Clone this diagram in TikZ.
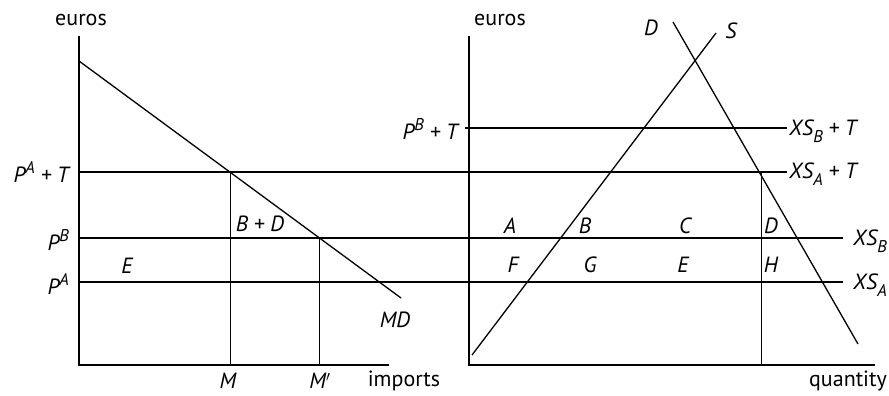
\documentclass[tikz,border=0pt]{standalone}
\usepackage{fontspec}
\setmainfont{PT Sans}
\newcommand{\mysup}[1]{\raisebox{0.42em}{\fontsize{17}{20}\selectfont #1}}
\newcommand{\mysub}[1]{\raisebox{-0.3em}{\fontsize{17}{20}\selectfont #1}}
\begin{document}
\begin{tikzpicture}[x=1pt,y=-1pt,
  ax/.style={line width=1.5pt},
  ln/.style={line width=1.3pt},
  thin/.style={line width=0.7pt},
  lab/.style={font=\fontsize{22}{26}\selectfont, inner sep=0pt},
  it/.style={lab, font=\fontsize{22}{26}\selectfont\itshape}]
\useasboundingbox (0,0) rectangle (889,396);
% left panel
\coordinate (L0) at (79,365);
\coordinate (Ltop) at (79,36);
\coordinate (Lend) at (389,365);
\draw[ax] (Ltop) -- (L0) -- (Lend);
\coordinate (md1) at (79,61);
\coordinate (md2) at (401,298);
\draw[ln] (md1) -- (md2);
% horizontal lines
\coordinate (pat1) at (79,172); \coordinate (pat2) at (787,172);
\coordinate (pb1) at (79,238); \coordinate (pb2) at (843,238);
\coordinate (pa1) at (79,282); \coordinate (pa2) at (843,282);
\coordinate (pbt1) at (465,128); \coordinate (pbt2) at (787,128);
\draw[ln] (pat1) -- (pat2);
\draw[ln] (pb1) -- (pb2);
\draw[ln] (pa1) -- (pa2);
\draw[ln] (pbt1) -- (pbt2);
% verticals
\coordinate (m1) at (230,172); \coordinate (m2) at (230,365);
\coordinate (mp1) at (319,238); \coordinate (mp2) at (319,365);
\draw[thin] (m1) -- (m2);
\draw[thin] (mp1) -- (mp2);
% right panel
\coordinate (R0) at (469,365);
\coordinate (Rtop) at (469,36);
\coordinate (Rend) at (875,365);
\draw[ax] (Rtop) -- (R0) -- (Rend);
\coordinate (s1) at (472,355); \coordinate (s2) at (716,33);
\coordinate (d1) at (673,22); \coordinate (d2) at (858,344);
\draw[ln] (s1) -- (s2);
\draw[ln] (d1) -- (d2);
\coordinate (v1) at (761,172); \coordinate (v2) at (761,365);
\draw[thin] (v1) -- (v2);
% labels left
\node[lab] (euL) at (81,20) {euros};
\node[it, anchor=east] (lPAT) at (69,172) {P\mysup{A} + T};
\node[it, anchor=east] (lPB) at (69,240) {P\mysup{B}};
\node[it, anchor=east] (lPA) at (69,284) {P\mysup{A}};
\node[it] (lE) at (127,266) {E};
\node[it] (lBD) at (260,224) {B + D};
\node[it] (lMD) at (395,320) {MD};
\node[it] (lM) at (228,381) {M};
\node[it] (lMp) at (320,381) {M$'$};
\node[lab] (limp) at (404,381) {imports};
\node[lab] (euR) at (500,20) {euros};
% labels right
\node[it] (lD) at (651,28) {D};
\node[it] (lS) at (731,31) {S};
\node[it, anchor=east] (rPBT) at (458,129) {P\mysup{B} + T};
\node[it, anchor=west] (xsbt) at (789,131) {XS\mysub{B} + T};
\node[it, anchor=west] (xsat) at (789,174) {XS\mysub{A} + T};
\node[it, anchor=west] (xsb) at (853,241) {XS\mysub{B}};
\node[it, anchor=west] (xsa) at (853,285) {XS\mysub{A}};
\node[lab] (qty) at (848,381) {quantity};
\node[it] (rA) at (510,226) {A};
\node[it] (rB) at (585,226) {B};
\node[it] (rC) at (685,226) {C};
\node[it] (rD) at (771,226) {D};
\node[it] (rF) at (513,265) {F};
\node[it] (rG) at (590,265) {G};
\node[it] (rE) at (683,265) {E};
\node[it] (rH) at (771,265) {H};
\end{tikzpicture}
\end{document}
